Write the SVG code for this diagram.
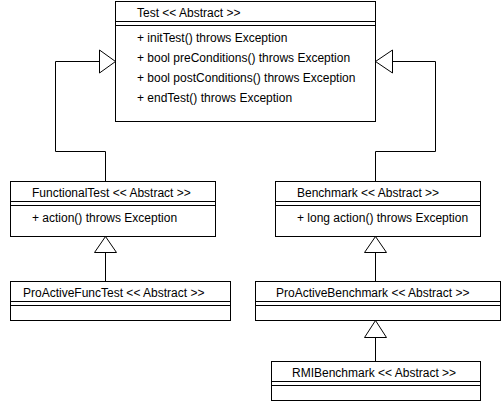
<svg xmlns="http://www.w3.org/2000/svg" width="502" height="402" viewBox="0 0 502 402">
<style>
.box{fill:#fff;stroke:#000;stroke-width:1}
.sep{stroke:#000;stroke-width:1;fill:none}
.t{font-family:"Liberation Sans",Arial,sans-serif;font-size:12px;fill:#000}
.conn{fill:none;stroke:#000;stroke-width:1}
.tri{fill:#fff;stroke:#000;stroke-width:1}
</style>
<rect width="502" height="402" fill="#fff"/>
<g id="connectors">
<polyline class="conn" points="99,61.5 55.5,61.5 55.5,151.5 105.5,151.5 105.5,181.5"/>
<polygon class="tri" points="99.5,50 115.5,61.5 99.5,73"/>
<polyline class="conn" points="392,61.5 435.5,61.5 435.5,151.5 375.5,151.5 375.5,181.5"/>
<polygon class="tri" points="392.5,50 375.5,61.5 392.5,73"/>
<line class="conn" x1="105.5" y1="253" x2="105.5" y2="281.5"/>
<polygon class="tri" points="105.5,236.5 94.5,252.5 116.5,252.5"/>
<line class="conn" x1="375.5" y1="253" x2="375.5" y2="281.5"/>
<polygon class="tri" points="375.5,236.5 364.5,252.5 386.5,252.5"/>
<line class="conn" x1="375.5" y1="337" x2="375.5" y2="361.5"/>
<polygon class="tri" points="375.5,320.5 364.5,337.5 386.5,337.5"/>
</g>
<g id="Test">
<rect class="box" x="115.5" y="1.5" width="260" height="120"/>
<path class="sep" d="M115.5 21.5H375.5M115.5 25.5H375.5"/>
<text class="t" x="137" y="16.5">Test &lt;&lt; Abstract &gt;&gt;</text>
<text class="t" x="137" y="41.5">+ initTest() throws Exception</text>
<text class="t" x="137" y="61.5">+ bool preConditions() throws Exception</text>
<text class="t" x="137" y="81.5">+ bool postConditions() throws Exception</text>
<text class="t" x="137" y="101.5">+ endTest() throws Exception</text>
</g>
<g id="FunctionalTest">
<rect class="box" x="10.5" y="181.5" width="205" height="55"/>
<path class="sep" d="M10.5 201.5H215.5M10.5 205.5H215.5"/>
<text class="t" x="32" y="196.5">FunctionalTest &lt;&lt; Abstract &gt;&gt;</text>
<text class="t" x="32" y="221.5">+ action() throws Exception</text>
</g>
<g id="ProActiveFuncTest">
<rect class="box" x="10.5" y="281.5" width="220" height="39"/>
<path class="sep" d="M10.5 301.5H230.5M10.5 305.5H230.5"/>
<text class="t" x="23" y="296.5">ProActiveFuncTest &lt;&lt; Abstract &gt;&gt;</text>
</g>
<g id="Benchmark">
<rect class="box" x="275.5" y="181.5" width="205" height="55"/>
<path class="sep" d="M275.5 201.5H480.5M275.5 205.5H480.5"/>
<text class="t" x="297" y="196.5">Benchmark &lt;&lt; Abstract &gt;&gt;</text>
<text class="t" x="297" y="221.5">+ long action() throws Exception</text>
</g>
<g id="ProActiveBenchmark">
<rect class="box" x="255.5" y="281.5" width="245" height="39"/>
<path class="sep" d="M255.5 301.5H500.5M255.5 305.5H500.5"/>
<text class="t" x="276" y="296.5">ProActiveBenchmark &lt;&lt; Abstract &gt;&gt;</text>
</g>
<g id="RMIBenchmark">
<rect class="box" x="271.5" y="361.5" width="209" height="39"/>
<path class="sep" d="M271.5 381.5H480.5M271.5 385.5H480.5"/>
<text class="t" x="292" y="376.5">RMIBenchmark &lt;&lt; Abstract &gt;&gt;</text>
</g>
</svg>
